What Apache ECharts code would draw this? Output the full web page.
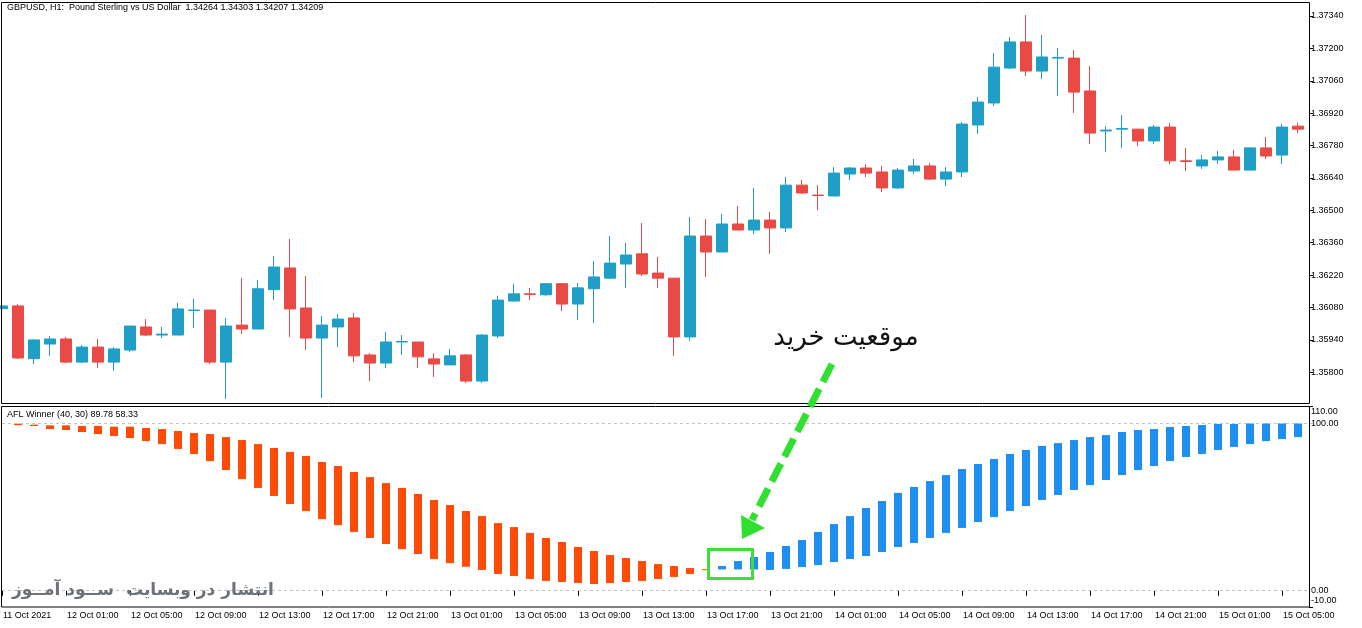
<!DOCTYPE html>
<html>
<head>
<meta charset="utf-8">
<title>GBPUSD H1 - AFL Winner</title>
<script src="https://cdn.jsdelivr.net/npm/echarts@6/dist/echarts.min.js"></script>
<style>
  html, body { margin: 0; padding: 0; background: #fff; }
  #chart { width: 1362px; height: 628px; }
</style>
</head>
<body>
<div id="chart"></div>
<script>
// GBPUSD H1 candles, one per hour from 11 Oct 21:00
const openPrice = [1.36075,1.36087,1.35859,1.35922,1.35944,1.35844,1.35909,1.35844,1.35896,1.35996,
  1.35961,1.35961,1.36067,1.36069,1.35844,1.36004,1.35987,1.36157,1.36251,1.36078,
  1.35948,1.35996,1.36035,1.35875,1.35840,1.35931,1.35931,1.35858,1.35832,1.35875,
  1.35762,1.35957,1.36108,1.36139,1.36135,1.36183,1.36095,1.36161,1.36207,1.36268,
  1.36312,1.36229,1.36207,1.35953,1.36389,1.36320,1.36441,1.36415,1.36458,1.36424,
  1.36609,1.36566,1.36562,1.36657,1.36683,1.36666,1.36597,1.36670,1.36692,1.36635,
  1.36666,1.36869,1.36964,1.37115,1.37228,1.37102,1.37158,1.37158,1.37016,1.36843,
  1.36851,1.36851,1.36800,1.36860,1.36714,1.36692,1.36718,1.36731,1.36674,1.36770,
  1.36739,1.36864];
const highPrice = [1.36087,1.36095,1.35942,1.35957,1.35953,1.35918,1.35944,1.35909,1.36000,1.36030,
  1.35996,1.36100,1.36118,1.36069,1.36035,1.36207,1.36199,1.36303,1.36376,1.36216,
  1.36043,1.36052,1.36056,1.35883,1.35974,1.35961,1.35931,1.35883,1.35901,1.35879,
  1.35966,1.36131,1.36183,1.36165,1.36183,1.36186,1.36186,1.36281,1.36389,1.36359,
  1.36445,1.36299,1.36207,1.36471,1.36462,1.36484,1.36519,1.36597,1.36493,1.36644,
  1.36631,1.36609,1.36687,1.36687,1.36700,1.36692,1.36683,1.36722,1.36705,1.36687,
  1.36882,1.36990,1.37180,1.37249,1.37344,1.37258,1.37202,1.37193,1.37124,1.36864,
  1.36912,1.36851,1.36869,1.36878,1.36770,1.36739,1.36757,1.36762,1.36770,1.36817,
  1.36873,1.36878];
const lowPrice = [1.36074,1.35857,1.35836,1.35871,1.35840,1.35840,1.35819,1.35806,1.35888,1.35957,
  1.35948,1.35961,1.35991,1.35836,1.35685,1.35966,1.35987,1.36112,1.35953,1.35896,
  1.35689,1.35909,1.35844,1.35762,1.35819,1.35875,1.35819,1.35780,1.35832,1.35754,
  1.35754,1.35948,1.36105,1.36112,1.36131,1.36065,1.36026,1.36013,1.36203,1.36165,
  1.36216,1.36165,1.35871,1.35935,1.36212,1.36320,1.36415,1.36398,1.36312,1.36406,
  1.36571,1.36501,1.36562,1.36631,1.36644,1.36579,1.36592,1.36657,1.36631,1.36605,
  1.36644,1.36830,1.36951,1.37111,1.37081,1.37068,1.36994,1.36921,1.36787,1.36753,
  1.36770,1.36778,1.36787,1.36700,1.36670,1.36679,1.36700,1.36674,1.36674,1.36722,
  1.36700,1.36834];
const closePrice = [1.36087,1.35862,1.35940,1.35944,1.35844,1.35909,1.35844,1.35901,1.36000,1.35961,
  1.35965,1.36074,1.36069,1.35844,1.36000,1.35987,1.36161,1.36255,1.36074,1.35948,
  1.36004,1.36030,1.35871,1.35840,1.35931,1.35933,1.35867,1.35836,1.35871,1.35762,
  1.35961,1.36112,1.36139,1.36137,1.36183,1.36095,1.36165,1.36212,1.36272,1.36307,
  1.36225,1.36207,1.35953,1.36389,1.36320,1.36441,1.36415,1.36458,1.36424,1.36609,
  1.36575,1.36564,1.36661,1.36683,1.36661,1.36597,1.36674,1.36692,1.36635,1.36666,
  1.36873,1.36968,1.37119,1.37228,1.37102,1.37163,1.37161,1.37011,1.36834,1.36847,
  1.36854,1.36800,1.36860,1.36714,1.36711,1.36718,1.36731,1.36674,1.36770,1.36735,
  1.36860,1.36851];

// AFL Winner (40, 30) histogram, top and bottom of each bar
const aflHigh = [null,99.8,99.2,98.8,98.8,98.4,98.4,98.0,98.0,97.2,
  96.6,95.4,94.2,93.6,91.8,90.0,87.6,85.3,82.9,80.5,
  76.9,74.5,70.9,67.9,64.3,61.4,57.8,54.2,51.2,47.6,
  44.6,40.4,38.0,34.5,31.5,29.1,26.1,23.7,21.3,19.5,
  17.7,15.9,14.7,13.5,12.8,14.7,17.7,20.1,23.1,26.7,
  30.3,35.1,39.8,44.6,49.4,53.6,58.4,62.0,65.5,69.1,
  72.7,75.7,78.7,81.7,84.1,86.5,88.2,90.0,91.8,93.0,
  94.8,96.0,96.6,97.8,98.4,99.0,99.6,99.6,100,100,
  100,100];
const aflLow = [null,98.9,98.4,96.6,96.0,94.8,93.6,92.4,91.2,89.4,
  87.6,84.7,81.7,77.5,72.1,66.7,61.4,56.6,51.8,47.6,
  42.8,39.2,35.1,31.5,27.9,24.9,21.9,18.9,16.5,14.3,
  12.4,10.0,8.8,7.0,5.8,5.2,4.6,4.0,4.6,5.2,
  5.8,7.0,8.2,10.0,12.6,12.7,12.7,12.7,12.4,13.0,
  14.1,15.3,17.1,18.9,20.7,23.1,26.1,28.5,31.5,34.5,
  37.5,41.0,44.0,47.6,50.6,54.2,57.2,60.2,63.1,66.1,
  69.1,72.1,74.5,77.5,79.9,81.7,84.1,85.9,87.6,89.4,
  90.6,91.8];
const buyStart = 45; // first blue bar (buy position)

// time labels, one every 4 bars
const tickLabels = ['11 Oct 2021','12 Oct 01:00','12 Oct 05:00','12 Oct 09:00','12 Oct 13:00',
  '12 Oct 17:00','12 Oct 21:00','13 Oct 01:00','13 Oct 05:00','13 Oct 09:00','13 Oct 13:00',
  '13 Oct 17:00','13 Oct 21:00','14 Oct 01:00','14 Oct 05:00','14 Oct 09:00','14 Oct 13:00',
  '14 Oct 17:00','14 Oct 21:00','15 Oct 01:00','15 Oct 05:00'];
const priceTicks = [1.358, 1.3594, 1.3608, 1.3622, 1.3636, 1.365, 1.3664, 1.3678, 1.3692, 1.3706, 1.372, 1.3734];
const levelLines = [0, 100];
const aflTicks = [-10, 0, 100, 110];

const UP = '#1f9fc8';
const DOWN = '#e94a45';
const FONT = '"Liberation Sans", Arial, sans-serif';

// one extra empty slot on the right, like the chart shift in the terminal
const categories = openPrice.map((_, i) => String(i)).concat(['']);
const kData = openPrice.map((o, i) => [o, closePrice[i], lowPrice[i], highPrice[i]]);
const aflData = aflHigh.map((h, i) => [i, aflLow[i], h, i >= buyStart ? 1 : 0]);

const chart = echarts.init(document.getElementById('chart'));

chart.setOption({
  animation: false,
  backgroundColor: '#fff',
  grid: [
    { left: 2, width: 1312, top: 3, height: 400 },
    { left: 2, width: 1312, top: 406.6, height: 200.8 }
  ],
  xAxis: [
    { type: 'category', gridIndex: 0, data: categories, boundaryGap: false, show: false },
    {
      type: 'category', gridIndex: 1, data: categories, boundaryGap: false,
      axisLine: { show: false },
      axisTick: { show: true, interval: 3, length: 5, lineStyle: { color: '#000' } },
      axisLabel: {
        interval: 3, align: 'left', margin: 4, padding: [0, 0, 0, 1],
        color: '#000', fontSize: 9, fontFamily: FONT,
        formatter: (v, idx) => tickLabels[idx / 4] || ''
      },
      splitLine: { show: false }
    }
  ],
  yAxis: [
    {
      type: 'value', gridIndex: 0, position: 'right', offset: -5,
      min: 1.356673, max: 1.373962,
      axisLine: { show: false },
      axisTick: { show: true, length: 4, customValues: priceTicks, lineStyle: { color: '#000' } },
      axisLabel: {
        margin: 2, color: '#000', fontSize: 9, fontFamily: FONT,
        customValues: priceTicks,
        formatter: v => v.toFixed(5)
      },
      splitLine: { show: false }
    },
    {
      type: 'value', gridIndex: 1, position: 'right', offset: -5,
      min: -10, max: 110,
      axisLine: { show: false },
      axisTick: { show: true, length: 4, customValues: aflTicks, lineStyle: { color: '#000' } },
      axisLabel: {
        margin: 2, color: '#000', fontSize: 9, fontFamily: FONT,
        customValues: aflTicks,
        formatter: v => v === 110 ? '{dn|110.00}' : v === -10 ? '{up|-10.00}' : v.toFixed(2),
        rich: {
          dn: { padding: [10, 0, 0, 0], fontSize: 9, fontFamily: FONT, color: '#000' },
          up: { padding: [0, 0, 13, 0], fontSize: 9, fontFamily: FONT, color: '#000' }
        }
      },
      splitLine: { show: false }
    }
  ],
  series: [
    {
      name: 'GBPUSD',
      type: 'candlestick',
      xAxisIndex: 0, yAxisIndex: 0,
      data: kData,
      barWidth: 11,
      itemStyle: { color: UP, color0: DOWN, borderColor: UP, borderColor0: DOWN, borderWidth: 1 }
    },
    {
      name: 'AFL Winner',
      type: 'custom',
      xAxisIndex: 1, yAxisIndex: 1,
      data: aflData,
      encode: { x: 0, y: [1, 2] },
      renderItem: (params, api) => {
        if (api.value(1) == null || isNaN(api.value(1))) return;
        const lo = api.coord([api.value(0), api.value(1)]);
        const hi = api.coord([api.value(0), api.value(2)]);
        return {
          type: 'rect',
          shape: { x: lo[0] - 4, y: hi[1], width: 8, height: Math.max(1, lo[1] - hi[1]) },
          style: { fill: api.value(3) ? '#1e8ff0' : '#ff4a08' }
        };
      }
    },
    {
      name: 'levels',
      type: 'line',
      xAxisIndex: 1, yAxisIndex: 1,
      data: [],
      markLine: {
        silent: true, symbol: 'none',
        label: { show: false },
        lineStyle: { color: '#c4c4c4', type: [3, 3], width: 1 },
        data: levelLines.map(v => ({ yAxis: v }))
      }
    }
  ],
  graphic: [
    // panel frames
    { type: 'rect', shape: { x: 1.5, y: 2.5, width: 1308, height: 401 }, style: { fill: null, stroke: '#000', lineWidth: 1 }, z: 50 },
    { type: 'rect', shape: { x: 1.5, y: 406.5, width: 1308, height: 200.5 }, style: { fill: null, stroke: '#000', lineWidth: 1 }, z: 50 },
    // panel captions
    { type: 'text', x: 7, y: 3, z: 50, style: { text: 'GBPUSD, H1:  Pound Sterling vs US Dollar  1.34264 1.34303 1.34207 1.34209', font: '9px ' + FONT, fill: '#000', verticalAlign: 'top' } },
    { type: 'text', x: 7, y: 410, z: 50, style: { text: 'AFL Winner (40, 30) 89.78 58.33', font: '9px ' + FONT, fill: '#000', verticalAlign: 'top' } },
    // annotation: buy position
    { type: 'text', x: 846, y: 338, z: 60, style: { text: 'موقعیت خرید', font: '26px "DejaVu Sans", sans-serif', fill: '#111', align: 'center', verticalAlign: 'middle' } },
    { type: 'line', z: 60, shape: { x1: 832, y1: 364, x2: 752, y2: 520 }, style: { stroke: '#30e030', lineWidth: 7, lineDash: [20, 8] } },
    { type: 'polygon', z: 60, shape: { points: [[742, 539], [741, 515], [765, 528]] }, style: { fill: '#30e030' } },
    { type: 'rect', z: 60, shape: { x: 708.5, y: 549.5, width: 44, height: 29 }, style: { fill: null, stroke: '#3ce03c', lineWidth: 3 } },
    // watermark
    { type: 'text', x: 12, y: 591, z: 60, style: { text: 'انتشار در وبسایت  ســود آمــوز', font: 'bold 17px "DejaVu Sans", sans-serif', fill: '#6c7277', verticalAlign: 'middle' } }
  ]
});
</script>
</body>
</html>
